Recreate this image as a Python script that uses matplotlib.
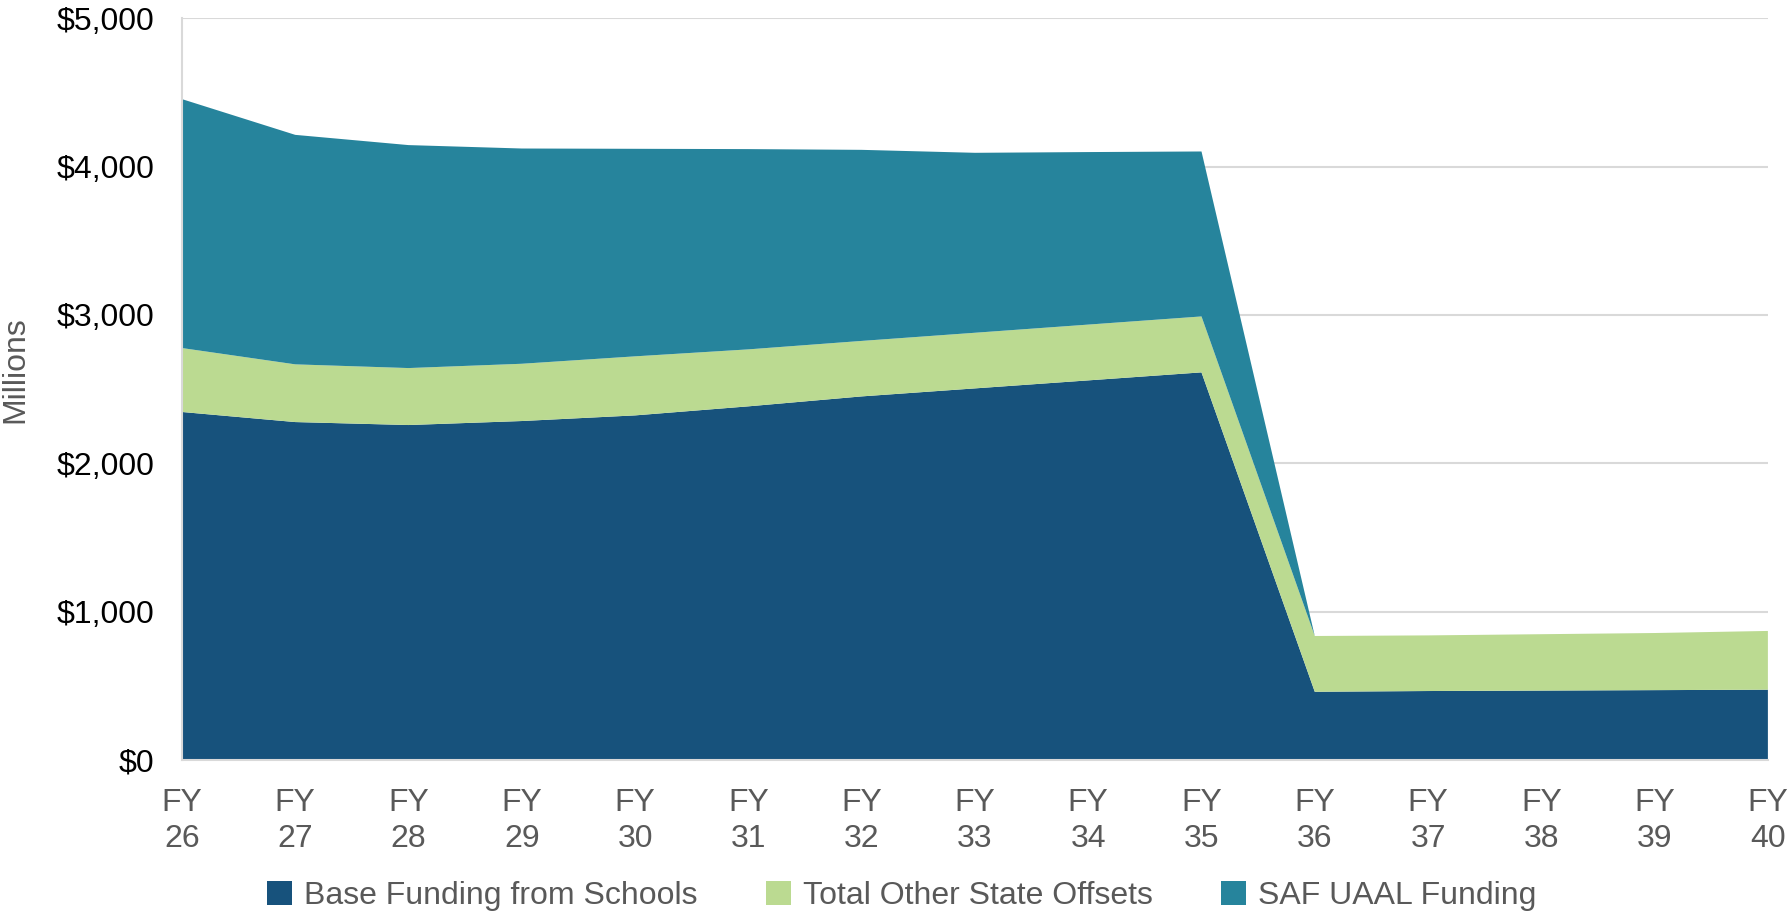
import matplotlib.pyplot as plt
import numpy as np

plt.rcParams['font.family'] = ['Liberation Sans', 'DejaVu Sans']

# data (millions of dollars)
years = ['26', '27', '28', '29', '30', '31', '32', '33', '34', '35', '36', '37', '38', '39', '40']
base_funding = [2346, 2278, 2258, 2285, 2323, 2384, 2451, 2505, 2559, 2613, 460, 465, 468, 471, 474]
other_offsets = [431, 389, 384, 386, 398, 384, 374, 375, 376, 377, 376, 375, 380, 385, 396]
saf_uaal = [1678, 1547, 1503, 1451, 1399, 1350, 1288, 1213, 1163, 1112, 0, 0, 0, 0, 0]

labels = ['Base Funding from Schools', 'Total Other State Offsets', 'SAF UAAL Funding']
colors = ['#17527C', '#BBDA91', '#26849C']

fig = plt.figure(figsize=(17.91, 9.22), dpi=100)
ax = fig.add_axes([0.1016, 0.1757, 0.8855, 0.8045])

x = np.arange(len(years))
ax.stackplot(x, base_funding, other_offsets, saf_uaal, colors=colors, labels=labels, lw=0, zorder=2)

ax.set_xlim(0, len(years) - 1)
ax.set_ylim(0, 5000)
ax.set_yticks(np.arange(0, 5001, 1000))
ax.set_yticklabels(['${:,}'.format(v) for v in range(0, 5001, 1000)], fontsize=23, color='black')
ax.set_xticks(x)
ax.set_xticklabels(['FY\n' + y for y in years], fontsize=23, color='#595959', linespacing=1.27)
ax.tick_params(axis='both', length=0)
ax.tick_params(axis='y', pad=20)
ax.tick_params(axis='x', pad=20)

ax.grid(axis='y', color='#D9D9D9', lw=1.5, zorder=0)
ax.set_axisbelow(True)
for s in ['top', 'right']:
    ax.spines[s].set_visible(False)
ax.spines['left'].set_color('#D9D9D9')
ax.spines['bottom'].set_color('#D9D9D9')
ax.spines['left'].set_linewidth(1.5)
ax.spines['bottom'].set_linewidth(1.5)

ax.set_ylabel('Millions', fontsize=23, color='#595959')
ax.yaxis.set_label_coords(-0.0955, 0.526)

leg = fig.legend(loc='center', bbox_to_anchor=(0.5036, 0.028), ncol=3, frameon=False,
                 fontsize=23, handlelength=0.78, handleheight=0.78, columnspacing=2.15,
                 handletextpad=0.37)
for t in leg.get_texts():
    t.set_color('#595959')

fig.savefig('out.png', dpi=100)
